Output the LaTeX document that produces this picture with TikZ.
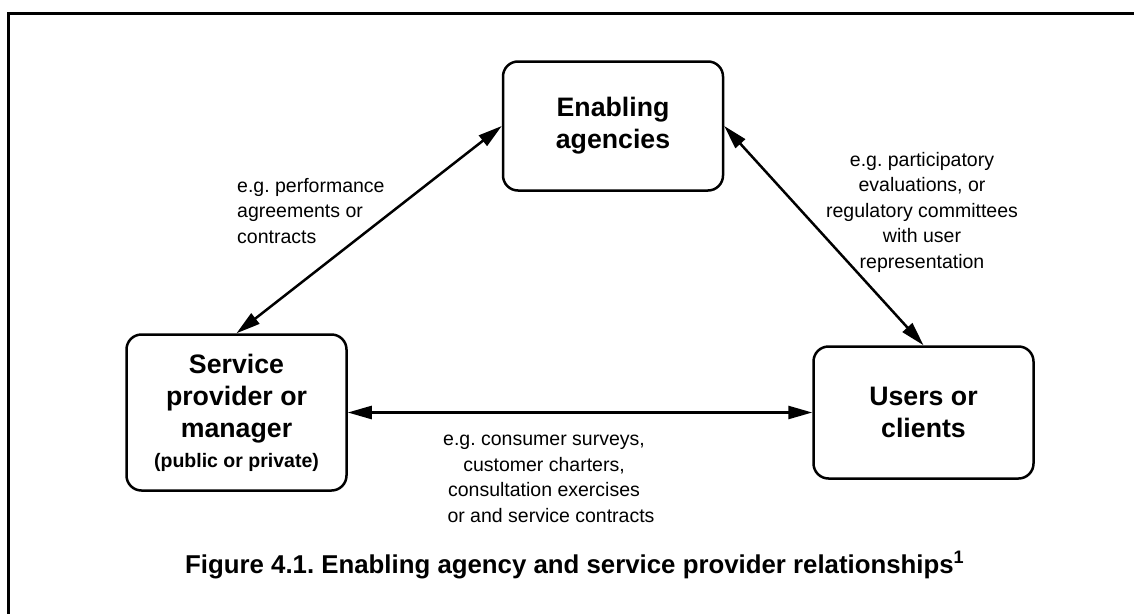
\documentclass[tikz,border=0pt]{standalone}
\usepackage{fontspec}
\setmainfont{Liberation Sans}
\frenchspacing
\usetikzlibrary{arrows.meta}
\tikzstyle{agent} = [draw=black, line width=2.5pt, rounded corners=15pt, align=center, inner sep=0pt, minimum width=220pt, font={\fontsize{26.7}{32}\selectfont\bfseries}]
\tikzstyle{note} = [inner sep=0pt, font={\fontsize{19.5}{25.5}\selectfont}]
\tikzstyle{link} = [{Triangle[length=24pt,width=13pt]}-{Triangle[length=24pt,width=13pt]}, line width=2.5pt]

\begin{document}
\begin{tikzpicture}[x=1pt,y=-1pt]
  \useasboundingbox (0,0) rectangle (1134,613);
  \draw[line width=3pt] (8,640) -- (8,13) -- (1160,13);
  \node[agent,minimum height=129pt](enabling) at (613,126){Enabling\\agencies};
  \node[agent,minimum height=156pt](service) at (236.5,412.5){Service\\provider or\\manager\\[-2pt]{\fontsize{19.5}{24}\selectfont (public or private)}};
  \node[agent,minimum height=132pt](users) at (923.5,412.5){Users or\\clients};
  \draw[link](service.north)--(enabling.west);
  \draw[link](enabling.east)--(users.north);
  \draw[link](service.east)--(users.west);
  \node[note,align=left,anchor=base west](perf) at (237,243){e.g. performance\\agreements or\\contracts};
  \node[note,align=center,anchor=base](part) at (922,268){e.g. participatory\\evaluations, or\\regulatory committees\\with user\\representation};
  \node[note,align=center,anchor=base](cons) at (544,522){e.g. consumer surveys,\\customer charters,\\consultation exercises\\\hspace*{14pt}or and service contracts};
  \node[anchor=base west,inner sep=0pt,font={\fontsize{25.8}{30}\selectfont\bfseries}](caption) at (185,573){Figure 4.1. Enabling agency and service provider relationships\textsuperscript{1}};
\end{tikzpicture}
\end{document}
